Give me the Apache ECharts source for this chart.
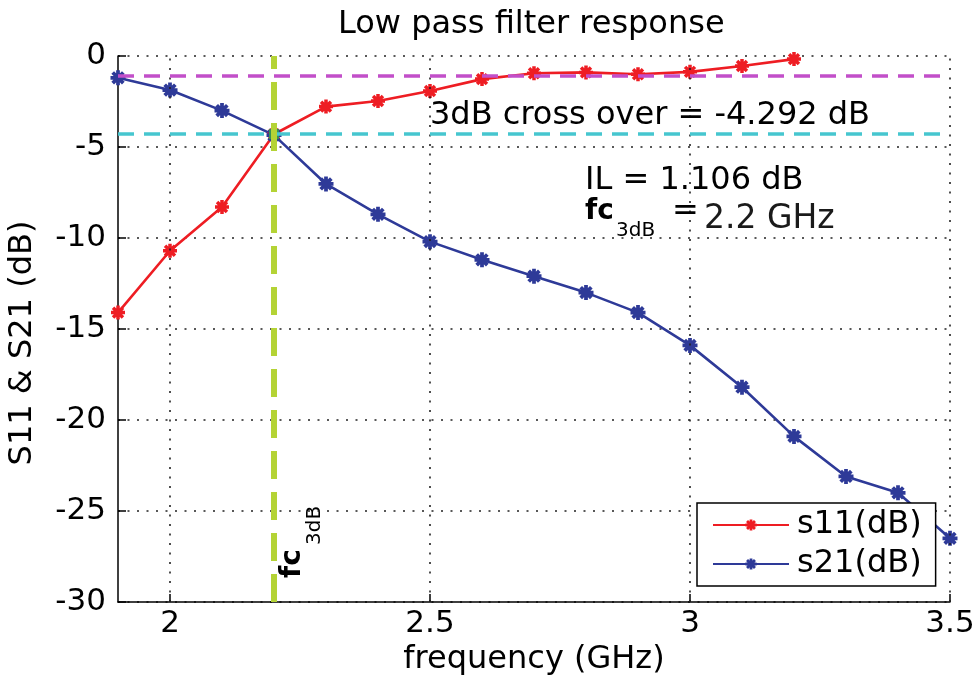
<!DOCTYPE html>
<html>
<head>
<meta charset="utf-8">
<script src="https://cdn.jsdelivr.net/npm/echarts@6/dist/echarts.min.js"></script>
<style>html,body{margin:0;padding:0;background:#fff}#c{width:977px;height:675px}</style>
</head>
<body>
<div id="c"></div>
<script>
// ---- data ----
const freq = [1.9, 2.0, 2.1, 2.2, 2.3, 2.4, 2.5, 2.6, 2.7, 2.8, 2.9, 3.0, 3.1, 3.2, 3.3, 3.4, 3.5];
const s11 = [-14.1, -10.7, -8.3, -4.3, -2.78, -2.47, -1.92, -1.27, -0.95, -0.9, -1.0, -0.87, -0.55, -0.17];
const s21 = [-1.2, -1.87, -3.0, -4.35, -7.03, -8.7, -10.2, -11.2, -12.1, -13.0, -14.1, -15.9, -18.2, -20.9, -23.1, -24.0, -26.5];
const xTicks = [2, 2.5, 3, 3.5];
const insertionLoss = -1.106;
const crossover = -4.292;
const cutoff = 2.2;
const seriesNames = ['s11(dB)', 's21(dB)'];

// ---- styles ----
const FONT = 'DejaVu Sans';
const RED = '#ee1d23', BLUE = '#2e3a98';

function asterisk() {
  const L = 10, t = 2.5;
  let p = '';
  [0, 45, 90, 135].forEach(a => {
    const r = a * Math.PI / 180, c = Math.cos(r), s = Math.sin(r);
    const pts = [[L * c - t * s, L * s + t * c], [L * c + t * s, L * s - t * c],
                 [-L * c + t * s, -L * s - t * c], [-L * c - t * s, -L * s + t * c]];
    p += 'M' + pts.map(q => q[0].toFixed(3) + ' ' + q[1].toFixed(3)).join(' L') + ' Z ';
  });
  return 'path://' + p;
}
const STAR = asterisk();

const chart = echarts.init(document.getElementById('c'));
const txt = (text, x, y, size, extra) => Object.assign({
  type: 'text', x: x, y: y, z: 20,
  style: Object.assign({text: text, fontFamily: FONT, fontSize: size, fill: '#000', verticalAlign: 'middle', align: 'left'}, extra || {})
});

chart.setOption({
  animation: false,
  backgroundColor: '#fff',
  title: {text: 'Low pass filter response', left: 333, top: 4,
    textStyle: {fontFamily: FONT, fontSize: 32, fontWeight: 'normal', color: '#000'}},
  grid: {left: 118, right: 27, top: 56, bottom: 73, outerBoundsMode: 'none', containLabel: false},
  legend: {
    data: seriesNames, orient: 'vertical', left: 697, top: 503,
    padding: [6, 14, 6, 15], itemGap: 7, itemWidth: 76, itemHeight: 14,
    borderColor: '#000', borderWidth: 1.5, backgroundColor: '#fff',
    textStyle: {fontFamily: FONT, fontSize: 32, color: '#000', padding: [0, 0, 0, 3]}
  },
  xAxis: {
    type: 'value', min: 1.9, max: 3.5,
    name: 'frequency (GHz)', nameLocation: 'middle', nameGap: 36,
    nameTextStyle: {fontFamily: FONT, fontSize: 32, color: '#000'},
    axisLine: {onZero: false, lineStyle: {color: '#000', width: 1.5}},
    axisTick: {inside: true, length: 8, customValues: xTicks, lineStyle: {color: '#000', width: 1.5}},
    axisLabel: {customValues: xTicks, margin: 6, fontFamily: FONT, fontSize: 31, color: '#000'},
    splitLine: {show: false}
  },
  yAxis: {
    type: 'value', min: -30, max: 0, interval: 5,
    name: 'S11 & S21 (dB)', nameLocation: 'middle', nameGap: 79,
    nameTextStyle: {fontFamily: FONT, fontSize: 32, color: '#000', padding: [0, 28, 0, 0]},
    axisLine: {onZero: false, lineStyle: {color: '#000', width: 1.5}},
    axisTick: {inside: true, length: 8, lineStyle: {color: '#000', width: 1.5}},
    axisLabel: {margin: 12, fontFamily: FONT, fontSize: 31, color: '#000'},
    splitLine: {show: true, lineStyle: {color: '#222', width: 1.6, type: [2, 7.5]}}
  },
  graphic: [
    txt('3dB cross over = -4.292 dB', 430, 116, 32),
    txt('IL = 1.106 dB', 585, 181, 32),
    txt('fc', 585, 212, 28, {fontWeight: 'bold'}),
    txt('3dB', 616, 231, 20),
    txt('=', 672, 212, 32),
    txt('2.2 GHz', 704, 219, 33, {fill: '#1a1a1a'}),
    {type: 'group', x: 293, y: 578, rotation: Math.PI / 2, z: 20, children: [
      {type: 'text', x: 0, y: 0, style: {text: 'fc', fontFamily: FONT, fontSize: 28, fontWeight: 'bold', fill: '#000', verticalAlign: 'middle', align: 'left'}},
      {type: 'text', x: 33, y: 22, style: {text: '3dB', fontFamily: FONT, fontSize: 20, fill: '#000', verticalAlign: 'middle', align: 'left'}}
    ]}
  ],
  series: [
    {
      name: 'xgrid', type: 'line', data: [], z: 1, silent: true,
      markLine: {silent: true, symbol: ['none', 'none'], label: {show: false},
        lineStyle: {color: '#222', width: 1.6, type: [2, 7.5]},
        data: xTicks.map(v => ({xAxis: v}))}
    },
    {
      name: 'refs', type: 'line', data: [], z: 1, silent: true,
      markLine: {silent: true, symbol: ['none', 'none'], label: {show: false},
        data: [
          {yAxis: insertionLoss, lineStyle: {color: '#c24fc9', width: 3.5, type: [16, 10]}},
          {yAxis: crossover, lineStyle: {color: '#46c6cf', width: 3.5, type: [16, 10]}},
          {xAxis: cutoff, lineStyle: {color: '#b4d335', width: 6, type: [28, 13]}}
        ]}
    },
    {
      name: seriesNames[0], type: 'line', z: 3,
      data: s11.map((v, i) => [freq[i], v]),
      symbol: STAR, symbolSize: 14, showAllSymbol: true,
      itemStyle: {color: RED}, lineStyle: {color: RED, width: 2.6}
    },
    {
      name: seriesNames[1], type: 'line', z: 3,
      data: s21.map((v, i) => [freq[i], v]),
      symbol: STAR, symbolSize: 15, showAllSymbol: true,
      itemStyle: {color: BLUE}, lineStyle: {color: BLUE, width: 2.6}
    },
    {
      name: 'cross', type: 'scatter', z: 4, silent: true,
      data: [[cutoff, crossover]], symbol: 'rect', symbolSize: 10,
      itemStyle: {color: '#3aa845'}
    }
  ]
});
</script>
</body>
</html>
